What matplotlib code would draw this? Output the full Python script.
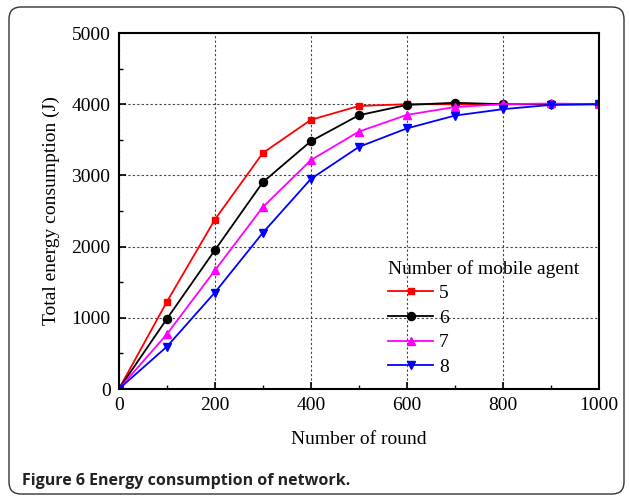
import matplotlib.pyplot as plt
from matplotlib.patches import FancyBboxPatch
from matplotlib.ticker import MultipleLocator

rounds = [0, 100, 200, 300, 400, 500, 600, 700, 800, 900, 1000]
agents_5 = [0, 1225, 2380, 3315, 3780, 3975, 4000, 4000, 4000, 4000, 4000]
agents_6 = [0, 985, 1950, 2905, 3480, 3845, 3990, 4020, 4000, 4000, 4000]
agents_7 = [0, 770, 1665, 2555, 3215, 3615, 3850, 3960, 4000, 4010, 4000]
agents_8 = [0, 595, 1355, 2195, 2950, 3400, 3660, 3840, 3930, 3990, 4000]

plt.rcParams['font.family'] = ['Liberation Serif', 'DejaVu Serif']

fig = plt.figure(figsize=(6.29, 4.97), dpi=100)

# rounded frame around the whole figure (inch units)
frame = FancyBboxPatch((0.09, 0.03), 6.15, 4.87, boxstyle='round,pad=0,rounding_size=0.12',
                       transform=fig.dpi_scale_trans, fill=False, edgecolor='#333333', linewidth=1.0)
fig.patches.append(frame)

ax = fig.add_axes([0.189, 0.2173, 0.763, 0.7163])

ax.plot(rounds, agents_5, color='red', marker='s', markersize=5, linewidth=1.3, label='5')
ax.plot(rounds, agents_6, color='black', marker='o', markersize=5.8, linewidth=1.3, label='6')
ax.plot(rounds, agents_7, color='magenta', marker='^', markersize=6.2, linewidth=1.3, label='7')
ax.plot(rounds, agents_8, color='blue', marker='v', markersize=6.2, linewidth=1.3, label='8')

ax.set_xlim(0, 1000)
ax.set_ylim(0, 5000)
ax.xaxis.set_major_locator(MultipleLocator(200))
ax.xaxis.set_minor_locator(MultipleLocator(100))
ax.yaxis.set_major_locator(MultipleLocator(1000))
ax.yaxis.set_minor_locator(MultipleLocator(500))
ax.tick_params(which='both', direction='in', top=False, right=False, labelsize=14, pad=6)
ax.tick_params(which='major', length=5, width=1.2)
ax.tick_params(which='minor', length=3, width=1.0)
for s in ax.spines.values():
    s.set_linewidth(1.5)

ax.grid(True, which='major', linestyle=(0, (2, 2)), color='#444444', linewidth=0.8)

ax.set_xlabel('Number of round', fontsize=14, labelpad=12)
ax.set_ylabel('Total energy consumption (J)', fontsize=14, labelpad=8)

leg = ax.legend(title='Number of mobile agent', loc='upper left', bbox_to_anchor=(0.545, 0.385),
                frameon=False, fontsize=14, title_fontsize=14, handlelength=2.3,
                handletextpad=0.3, labelspacing=0.36, borderaxespad=0)
leg._legend_box.align = 'left'

fig.text(0.035, 0.024, 'Figure 6 Energy consumption of network.', fontsize=11.5,
         fontweight='bold', family=['Open Sans', 'DejaVu Sans'], color='#222222')

fig.savefig('out.png', dpi=100)
